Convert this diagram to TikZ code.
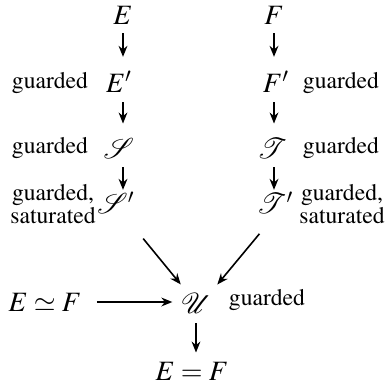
\documentclass[tikz,border=0pt]{standalone}
\usepackage[T1]{fontenc}
\usepackage{mathptmx}
\usepackage{mathrsfs}
\usetikzlibrary{arrows.meta}

\tikzset{
  obj/.style={inner sep=0pt, font=\fontsize{14}{16}\selectfont},
  note/.style={inner sep=0pt, align=center, font=\fontsize{11.8}{10.5}\selectfont},
  arr/.style={->, line width=0.8pt, shorten <=4.5pt, shorten >=7pt},
}

\begin{document}
\begin{tikzpicture}[x=0.5pt, y=-0.5pt, >={Stealth[length=5.5pt, width=4.4pt]}]
    \useasboundingbox (0,0) rectangle (386,391);

    % left column
    \node[obj] (E)  at (123, 15) {$E$};
    \node[obj] (Ep) at (119, 82) {$E'$};
    \node[obj] (S)  at (119,148) {$\mathscr{S}$};
    \node[obj] (Sp) at (116,203) {$\mathscr{S}'$};
    \node[note] (gE) at (50, 83) {guarded};
    \node[note] (gS) at (50,148) {guarded};
    \node[note] (gSp) at (53,204) {guarded,\\saturated};

    % right column
    \node[obj] (F)  at (274, 15) {$F$};
    \node[obj] (Fp) at (276, 82) {$F'$};
    \node[obj] (T)  at (272,148) {$\mathscr{T}$};
    \node[obj] (Tp) at (275,203) {$\mathscr{T}'$};
    \node[note] (gF) at (341, 83) {guarded};
    \node[note] (gT) at (341,148) {guarded};
    \node[note] (gTp) at (342,204) {guarded,\\saturated};

    % bottom
    \node[obj] (U)   at (196,303) {$\mathscr{U}$};
    \node[obj] (Iso) at (45,302)  {$E \simeq F$};
    \node[obj] (Eq)  at (192,371) {$E = F$};
    \node[note] (gU) at (267,300) {guarded};

    % arrows
    \draw[arr] (E.south)  -- (E.south |- Ep.north);
    \draw[arr] (E.south |- Ep.south) -- (E.south |- S.north);
    \draw[arr, shorten >=1pt] (E.south |- S.south)  -- (E.south |- Sp.north);
    \draw[arr] (F.south)  -- (F.south |- Fp.north);
    \draw[arr] (F.south |- Fp.south) -- (F.south |- T.north);
    \draw[arr, shorten >=1pt] (F.south |- T.south)  -- (F.south |- Tp.north);
    \draw[arr, shorten <=23pt, shorten >=12pt] ([xshift=-1pt]Sp.center) -- (U.center);
    \draw[arr, shorten <=20pt, shorten >=12pt] ([xshift=5pt]Tp.center) -- ([xshift=3pt]U.center);
    \draw[arr, shorten <=7.5pt, shorten >=4pt] (Iso.east) -- (U.west |- Iso.east);
    \draw[arr, shorten <=5pt, shorten >=4.5pt] (U.south) -- (U.south |- Eq.north);
\end{tikzpicture}
\end{document}
